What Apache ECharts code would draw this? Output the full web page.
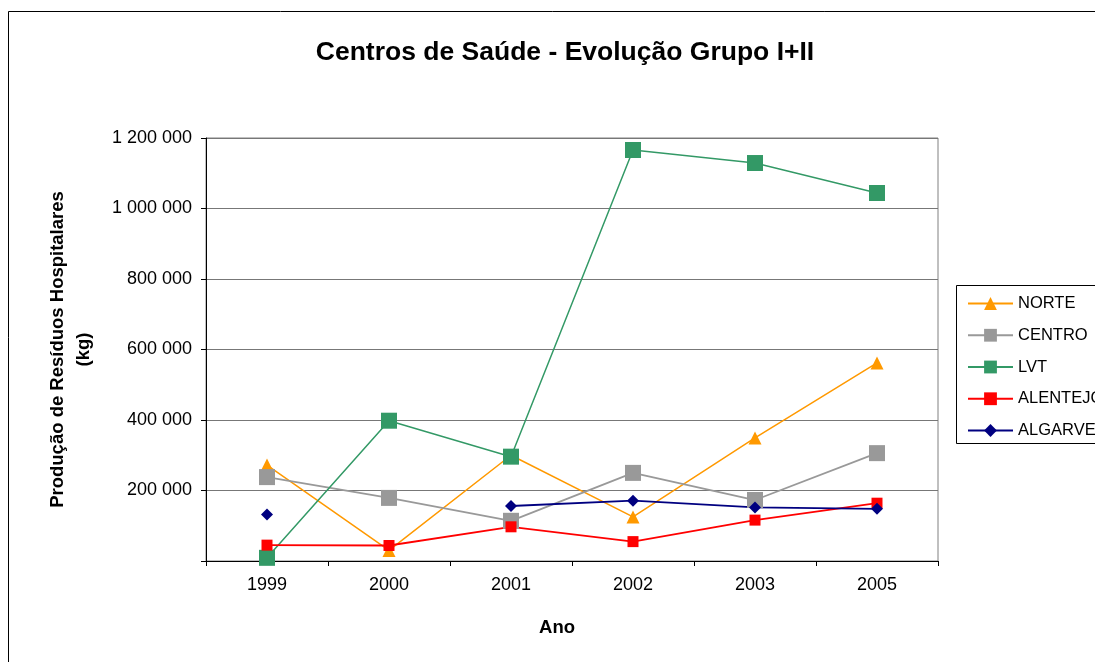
<!DOCTYPE html>
<html>
<head>
<meta charset="utf-8">
<script src="https://cdn.jsdelivr.net/npm/echarts@6/dist/echarts.min.js"></script>
<style>
html,body{margin:0;padding:0;background:#fff;}
#chart{width:1095px;height:662px;}
</style>
</head>
<body>
<div id="chart"></div>
<script>
const categories = ['1999', '2000', '2001', '2002', '2003', '2005'];
const norte    = [272000, 30000, 300000, 125000, 349000, 562000];
const centro   = [238000, 179000, 114000, 250000, 173000, 306000];
const lvt      = [9000, 398000, 296000, 1166000, 1129000, 1044000];
const alentejo = [45000, 44000, 97000, 55000, 116000, 164000];
const algarve  = [132000, null, 156000, 171000, 152000, 148000];
const yTicks = [0, 200000, 400000, 600000, 800000, 1000000, 1200000];

const FONT = '"Liberation Sans", Arial, sans-serif';
function fmt(v) {
  if (v === 0) return '';
  return String(v).replace(/\B(?=(\d{3})+(?!\d))/g, ' ');
}

const chart = echarts.init(document.getElementById('chart'));
function mk(name, data, color, symbol, size, width) {
  return {
    name: name, type: 'line', data: data,
    symbol: symbol, symbolSize: size, showSymbol: true, showAllSymbol: true,
    connectNulls: false, animation: false,
    lineStyle: {color: color, width: width},
    itemStyle: {color: color},
    emphasis: {disabled: true}
  };
}
chart.setOption({
  animation: false,
  textStyle: {fontFamily: FONT},
  graphic: [
    {type: 'rect', shape: {x: 8.5, y: 11.5, width: 1200, height: 800},
     style: {fill: 'none', stroke: '#000', lineWidth: 1}, silent: true},
    {type: 'rect', shape: {x: 956.5, y: 285.5, width: 200, height: 158},
     style: {fill: '#fff', stroke: '#000', lineWidth: 1}, silent: true, z: -1}
  ],
  title: {
    text: 'Centros de Saúde - Evolução Grupo I+II',
    left: 560, top: 34, textAlign: 'center',
    textStyle: {fontFamily: FONT, fontSize: 26.5, fontWeight: 'bold', color: '#000'}
  },
  legend: {
    orient: 'vertical', left: 962, top: 290,
    itemWidth: 45, itemHeight: 16, itemGap: 14.75,
    textStyle: {fontFamily: FONT, fontSize: 16.5, color: '#000'},
    data: ['NORTE', 'CENTRO', 'LVT', 'ALENTEJO', 'ALGARVE']
  },
  grid: {left: 206, top: 138, right: 157, bottom: 101, show: true,
         borderColor: '#808080', borderWidth: 1, containLabel: false},
  xAxis: {
    type: 'category', data: categories, boundaryGap: true,
    name: 'Ano', nameLocation: 'middle', nameGap: 57,
    nameTextStyle: {fontFamily: FONT, fontSize: 18.5, fontWeight: 'bold', color: '#000', padding: [0, 30, 0, 0]},
    axisLine: {lineStyle: {color: '#000', width: 1}},
    axisTick: {show: true, alignWithLabel: false, length: 5, lineStyle: {color: '#000'}},
    axisLabel: {fontFamily: FONT, fontSize: 18, color: '#000', margin: 15},
    splitLine: {show: false}
  },
  yAxis: {
    type: 'value', min: 0, max: 1200000, interval: 200000,
    name: 'Produção de Resíduos Hospitalares\n(kg)', nameLocation: 'middle', nameGap: 109, nameRotate: 90,
    nameTextStyle: {fontFamily: FONT, fontSize: 18.5, fontWeight: 'bold', color: '#000', lineHeight: 26},
    axisLine: {show: true, lineStyle: {color: '#000', width: 1}},
    axisTick: {show: true, length: 5, lineStyle: {color: '#000'}},
    axisLabel: {fontFamily: FONT, fontSize: 18, color: '#000', margin: 14,
                formatter: function (v) { return fmt(v); }},
    splitLine: {show: true, lineStyle: {color: '#777', width: 1}}
  },
  series: [
    mk('NORTE', norte, '#FF9900', 'triangle', 13, 1.5),
    mk('CENTRO', centro, '#999999', 'rect', 16, 1.8),
    mk('LVT', lvt, '#339966', 'rect', 16, 1.5),
    mk('ALENTEJO', alentejo, '#FF0000', 'rect', 11, 1.8),
    mk('ALGARVE', algarve, '#000080', 'diamond', 12, 1.8)
  ]
});
</script>
</body>
</html>
